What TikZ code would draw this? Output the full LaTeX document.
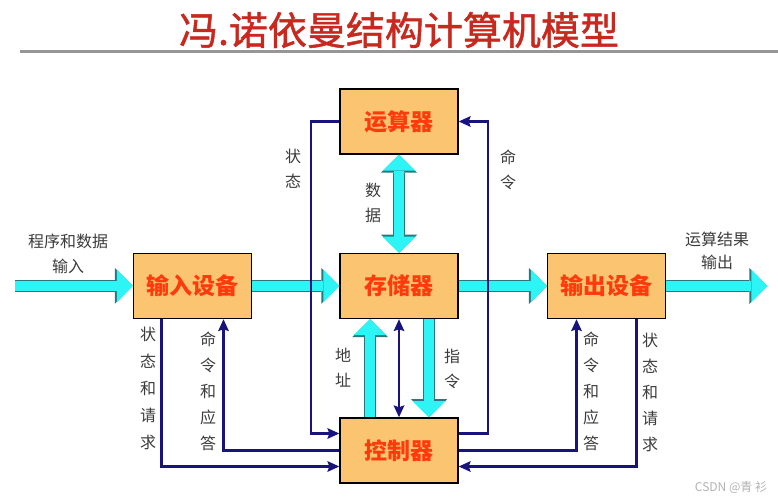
\documentclass[tikz,border=0pt]{standalone}
\usepackage{fontspec}
\setmainfont{Noto Sans CJK SC}
\newfontfamily\titlefont[FakeBold=1.2]{Noto Sans CJK SC}
\usetikzlibrary{positioning, arrows.meta}

\definecolor{boxfill}{RGB}{250,196,112}
\definecolor{boxtext}{RGB}{255,58,12}
\definecolor{titlered}{RGB}{200,40,30}
\definecolor{busblue}{RGB}{25,20,125}
\definecolor{flowcyan}{RGB}{45,245,245}
\definecolor{flowedge}{RGB}{40,120,125}
\definecolor{lblgray}{RGB}{60,60,60}

\begin{document}
\begin{tikzpicture}[
  x=1pt, y=1pt,
  node distance=98pt,
  unit/.style={draw, line width=1.5pt, fill=boxfill, text=boxtext, font=\fontsize{23}{24}\selectfont\bfseries, minimum width=118pt, minimum height=65pt, inner sep=0pt},
  lbl/.style={text=lblgray, font=\fontsize{16}{25}\selectfont, align=center, inner sep=0pt},
  cyantip/.tip={Triangle[width=33pt, length=16pt, line width=0pt]},
  edgetip/.tip={Triangle[width=36pt, length=18pt, line width=0pt]},
  bustip/.tip={Stealth[width=11pt, length=12pt, inset=2pt, line width=0pt]},
  flow/.style={draw=flowcyan, line width=10pt, -cyantip, preaction={draw=flowedge, line width=11.6pt, -edgetip}},
  flowboth/.style={draw=flowcyan, line width=10pt, cyantip-cyantip, preaction={draw=flowedge, line width=11.6pt, edgetip-edgetip}},
  bus/.style={draw=busblue, line width=2.4pt, -bustip},
]
\useasboundingbox (0,0) rectangle (778,502);

% Title
\node[text=titlered, font=\fontsize{39}{40}\selectfont\titlefont] (title) at (399,472) {冯.诺依曼结构计算机模型};
\draw[draw={rgb,255:red,150;green,150;blue,150}, line width=3pt] (20,450) -- (778,450);

% Units
\node[unit] (mem) at (399,216) {存储器};
\node[unit, above=of mem] (alu) {运算器};
\node[unit, below=of mem] (ctrl) {控制器};
\node[unit, left=87pt of mem] (inp) {输入设备};
\node[unit, right=88pt of mem] (out) {输出设备};

\coordinate[left=118pt of inp.west] (src);
\coordinate[right=101pt of out.east] (dst);

% Data flow
\draw[flow] (src) -- (inp.west);
\draw[flow] (inp.east) -- (mem.west);
\draw[flow] (mem.east) -- (out.west);
\draw[flow] (out.east) -- (dst);
\draw[flowboth] (alu.south) -- (mem.north);
\draw[flow] ([xshift=-29pt]ctrl.north) -- ([xshift=-29pt]mem.south);
\draw[flow] ([xshift=30pt]mem.south) -- ([xshift=30pt]ctrl.north);

% Control lines
\draw[bus] (alu.west) -- ++(-28,0) |- ([yshift=17pt]ctrl.west);
\draw[bus] ([yshift=17pt]ctrl.east) -- ++(29,0) |- (alu.east);
\draw[bus] ([xshift=-31pt]inp.south) |- ([yshift=-16pt]ctrl.west);
\draw[bus] (ctrl.west) -| ([xshift=31pt]inp.south);
\draw[bus] (ctrl.east) -| ([xshift=-30pt]out.south);
\draw[bus] ([xshift=30pt]out.south) |- ([yshift=-16pt]ctrl.east);
\draw[bus, bustip-bustip] (mem.south) -- (ctrl.north);

% Labels
\node[lbl] (inlbl) at (68,248) {程序和数据\\输入};
\node[lbl, font=\fontsize{16}{23}\selectfont] (outlbl) at (717,251) {运算结果\\输出};
\node[lbl] (st) at (293,333) {状\\态};
\node[lbl] (data) at (373,299) {数\\据};
\node[lbl] (cmd) at (508,332) {命\\令};
\node[lbl] (addr) at (343,134) {地\\址};
\node[lbl] (instr) at (452,133) {指\\令};
\node[lbl, font=\fontsize{16}{27}\selectfont] (inst) at (148,114) {状\\态\\和\\请\\求};
\node[lbl, font=\fontsize{16}{26}\selectfont] (incmd) at (208,111) {命\\令\\和\\应\\答};
\node[lbl, font=\fontsize{16}{26}\selectfont] (outcmd) at (591,111) {命\\令\\和\\应\\答};
\node[lbl, font=\fontsize{16}{26}\selectfont] (outst) at (650,110) {状\\态\\和\\请\\求};

% Watermark
\node[text=gray!60, font=\fontsize{12}{12}\selectfont] (mark) at (731,14) {CSDN @青 衫};

\end{tikzpicture}
\end{document}
